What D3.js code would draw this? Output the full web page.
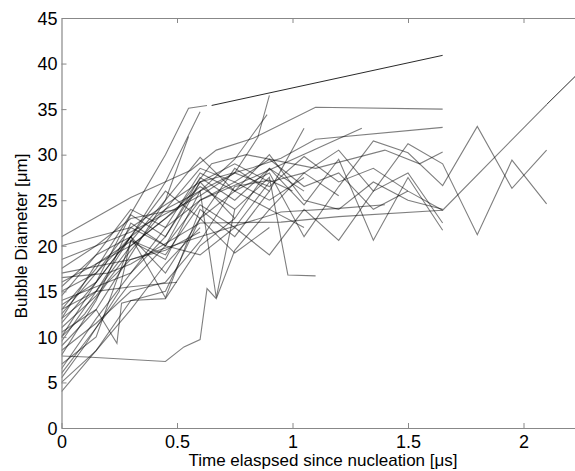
<!DOCTYPE html>
<html>
<head>
<meta charset="utf-8">
<script src="https://cdn.jsdelivr.net/npm/d3@7"></script>
<style>
  body { margin: 0; background: #fff; }
  text { font-family: "Liberation Sans", Arial, sans-serif; }
</style>
</head>
<body>
<div id="chart"></div>
<script>
// bubble growth runs: [time in us, diameter in um]
var runs = [
  [[0,13.0],[0.15,17.5],[0.3,23.5],[0.45,30],[0.55,35.1],[0.63,35.4]],
  [[0,12.0],[0.15,15],[0.3,21],[0.45,27],[0.6,34.7]],
  [[0,10.5],[0.15,13],[0.3,19],[0.45,25],[0.55,32]],
  [[0,21.0],[0.3,25.3],[0.56,28.3],[0.67,30.5],[0.83,31.8],[1.1,35.2],[1.65,35.0]],
  [[0,20.0],[0.3,22],[0.6,27],[0.83,28.6],[0.95,29.6],[1.1,31.7],[1.65,33.0]],
  [[0,18.5],[0.15,20],[0.3,21.5],[0.6,25.5],[0.75,28],[0.85,31.9],[0.9,36.5]],
  [[0,16],[0.3,20],[0.45,23],[0.6,26],[0.75,29.5],[0.89,34.4]],
  [[0,4.0],[0.1,7],[0.3,13],[0.45,18],[0.6,22]],
  [[0,5.0],[0.15,8.5],[0.3,14],[0.45,14.2],[0.6,20],[0.75,23]],
  [[0,5.5],[0.1,9],[0.25,15],[0.3,20.6],[0.45,19],[0.6,24.5],[0.75,22],[0.9,27]],
  [[0,6.5],[0.15,12],[0.3,17],[0.45,21],[0.6,27.5],[0.75,25],[0.9,28.5],[1.05,26]],
  [[0,7.0],[0.15,10],[0.3,20.5],[0.45,18.5],[0.6,26],[0.67,14.3],[0.75,24]],
  [[0,7.9],[0.11,7.8],[0.45,7.3],[0.53,8.9],[0.6,9.7],[0.63,15.3],[0.67,14.2],[0.75,19.5],[0.9,24],[1.05,22]],
  [[0,8.0],[0.15,14],[0.3,22.5],[0.45,20],[0.6,25],[0.75,27],[0.9,25],[1.05,27.5]],
  [[0,9.0],[0.15,13],[0.24,9.3],[0.26,13.7],[0.45,15],[0.6,23],[0.75,19.2],[0.9,22]],
  [[0,9.5],[0.15,15],[0.3,20],[0.45,23],[0.6,26.5],[0.75,24],[0.9,27.5],[0.98,16.8],[1.1,16.7]],
  [[0,10.0],[0.15,16],[0.3,21],[0.45,17],[0.6,23],[0.75,26],[0.9,24],[1.05,28],[1.2,25.5]],
  [[0,11.0],[0.15,14.5],[0.3,19.5],[0.45,24],[0.6,28.5],[0.75,27],[0.9,29.5],[1.05,26.5],[1.2,28],[1.35,24],[1.5,26]],
  [[0,12.5],[0.15,17],[0.3,22],[0.45,20],[0.6,27],[0.75,23],[0.9,28.5],[1.05,24.5],[1.2,29.5],[1.35,20.6],[1.5,27.5],[1.65,21.7]],
  [[0,13.5],[0.15,16],[0.3,21],[0.45,26],[0.6,23],[0.75,28.5],[0.9,26],[1.05,32.9]],
  [[0,14.0],[0.15,15.5],[0.3,17],[0.45,22],[0.6,25],[0.82,27.4],[1.3,32.9]],
  [[0,15.0],[0.15,17],[0.3,21],[0.45,14.3],[0.6,24],[0.75,21],[0.9,26]],
  [[0,15.5],[0.15,19],[0.3,24],[0.45,22],[0.6,28],[0.75,26],[0.9,30],[1.05,25],[1.2,24],[1.35,27],[1.5,25],[1.65,24]],
  [[0,16.5],[0.2,17],[0.3,18],[0.6,22.5],[0.95,22.6],[1.2,23.2],[1.65,23.9]],
  [[0,17],[0.3,18.5],[0.6,21],[0.95,23.7],[1.2,24.1],[1.4,24.5]],
  [[0,12.0],[0.15,18],[0.3,20.5],[0.45,25],[0.6,29.7],[0.75,26],[0.9,28],[1.05,21],[1.2,26.5],[1.35,31.5],[1.5,30.2],[1.65,26.6],[1.8,33.1],[1.95,26.3],[2.1,30.5]],
  [[0,11.5],[0.15,16],[0.3,23.4],[0.45,21],[0.6,27],[0.75,29],[0.9,27],[1.05,28],[1.2,30.5],[1.35,26],[1.5,31.2],[1.65,29],[1.8,21.2],[1.95,29.4],[2.1,24.6]],
  [[0,14.5],[0.15,19],[0.3,21],[0.45,24],[0.6,26],[0.75,28],[0.9,26.5],[1.05,29.8],[1.2,27],[1.35,28.5],[1.5,26],[1.65,23.9],[2.1,35.5]],
  [[0,6.0],[0.15,11],[0.3,16],[0.45,20],[0.6,19],[0.75,22],[0.9,19],[1.05,24],[1.2,20.6],[1.35,26],[1.5,28],[1.65,22.5]],
  [[0,8.5],[0.15,11.5],[0.3,15],[0.45,16],[0.6,20.5],[0.75,26.5],[0.9,27.2],[1.0,26]],
  [[0,10.0],[0.1,12.5],[0.2,16],[0.3,18.5],[0.45,19.5],[0.6,21.5]],
  [[0,13.0],[0.15,15],[0.3,15.5],[0.5,16]],
  [[0,17.5],[0.15,20],[0.3,23],[0.5,24],[0.65,29],[0.8,30],[1.1,28.5],[1.4,30.5],[1.55,29],[1.65,30.3]]
];

// thin black extrapolations
var fits = [
  [[0.65,35.4],[1.65,40.9]],
  [[2.1,35.5],[2.3,40.5]]
];

var xTicks = [0, 0.5, 1, 1.5, 2];
var yTicks = [0, 5, 10, 15, 20, 25, 30, 35, 40, 45];
var xLabel = "Time elaspsed since nucleation [\u03bcs]";
var yLabel = "Bubble Diameter [\u03bcm]";

var W = 575, H = 471;
var svg = d3.select("#chart").append("svg")
  .attr("width", W).attr("height", H);

var xScale = d3.scaleLinear().domain([0, 2.25]).range([61.5, 581.25]);
var yScale = d3.scaleLinear().domain([0, 45]).range([428, 18]);

svg.append("clipPath").attr("id", "clip")
  .append("rect").attr("x", 61.5).attr("y", 18).attr("width", 520).attr("height", 410);

var line = d3.line()
  .x(function(d){ return xScale(d[0]); })
  .y(function(d){ return yScale(d[1]); });

var plot = svg.append("g").attr("clip-path", "url(#clip)");

plot.selectAll("path.run").data(runs).enter().append("path")
  .attr("class", "run")
  .attr("d", line)
  .attr("fill", "none")
  .attr("stroke", "#000")
  .attr("stroke-opacity", 0.5)
  .attr("stroke-width", 1.1);

plot.selectAll("path.fit").data(fits).enter().append("path")
  .attr("class", "fit")
  .attr("d", line)
  .attr("fill", "none")
  .attr("stroke", "#111")
  .attr("stroke-width", 0.9);

// axes, matlab style box with inward ticks
var xAxis = d3.axisBottom(xScale).tickValues(xTicks).tickSizeInner(-5).tickSizeOuter(0).tickPadding(7)
  .tickFormat(function(d){ return d3.format("")(d); });
var xTop = d3.axisTop(xScale).tickValues(xTicks.slice(1)).tickSizeInner(-5).tickSizeOuter(0).tickFormat("");
var yAxis = d3.axisLeft(yScale).tickValues(yTicks).tickSizeInner(-5).tickSizeOuter(0).tickPadding(4);

var gx = svg.append("g").attr("transform", "translate(0,428)").call(xAxis);
var gt = svg.append("g").attr("transform", "translate(0,18)").call(xTop);
var gy = svg.append("g").attr("transform", "translate(61.5,0)").call(yAxis);

[gx, gt, gy].forEach(function(g){
  g.select(".domain").attr("stroke", "#888").attr("stroke-width", 1.2);
  g.selectAll(".tick line").attr("stroke", "#888");
  g.selectAll(".tick text").attr("fill", "#000").style("font-size", "18px")
    .style("font-family", "'Liberation Sans', Arial, sans-serif");
});
gy.selectAll(".tick text").attr("dy", "0.35em");

svg.append("text")
  .attr("x", 323).attr("y", 466)
  .attr("text-anchor", "middle")
  .style("font-size", "17px")
  .text(xLabel);

svg.append("text")
  .attr("transform", "translate(27,236) rotate(-90)")
  .attr("text-anchor", "middle")
  .style("font-size", "17px")
  .text(yLabel);
</script>
</body>
</html>
